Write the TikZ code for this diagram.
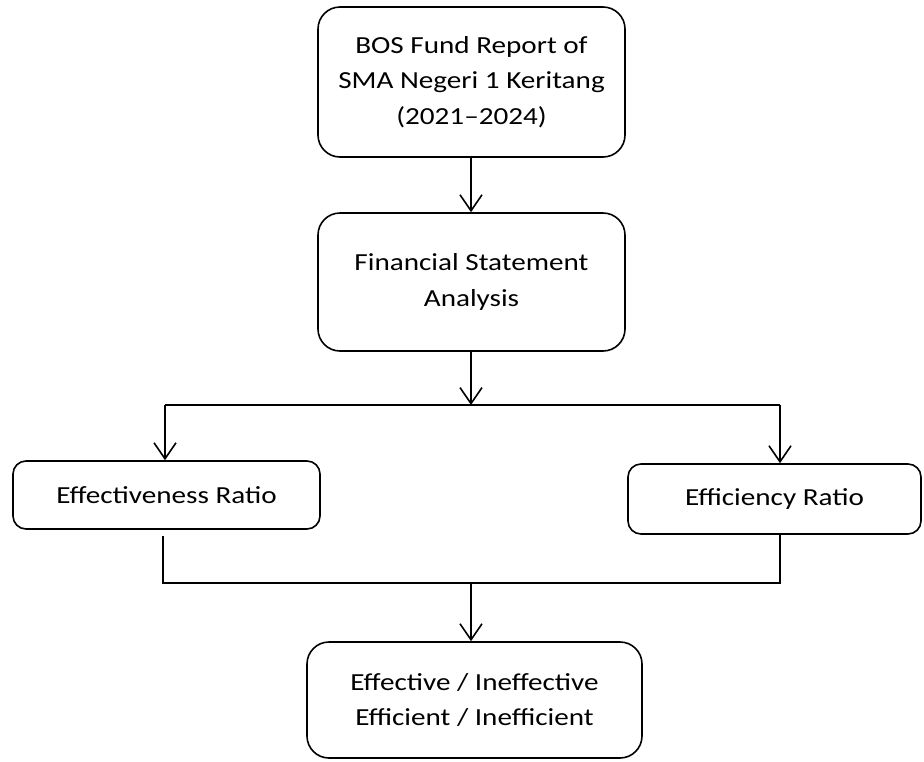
\documentclass[tikz,border=0pt]{standalone}
\usepackage{fontspec}
\setmainfont{Carlito}[FakeStretch=1.19]
\usetikzlibrary{arrows.meta}
\tikzset{
  box/.style={draw=black, line width=1.6pt, rounded corners=22pt, align=center, inner sep=0pt,
    font=\fontsize{24.5}{35.5}\selectfont},
  smallbox/.style={box, rounded corners=13pt},
  conn/.style={line width=1.6pt},
  arr/.style={conn, -{Straight Barb[length=16pt,width=22pt,line width=1.6pt]}}
}
\begin{document}
\begin{tikzpicture}[x=1pt,y=-1pt]
\useasboundingbox[fill=white] (0,0) rectangle (924,761);
\node[box, minimum width=307pt, minimum height=150pt] (b1) at (471.5,82) {BOS Fund Report of\\SMA Negeri 1 Keritang\\(2021–2024)};
\node[box, minimum width=307pt, minimum height=138pt] (b2) at (471.5,282) {Financial Statement\\Analysis};
\node[smallbox, minimum width=307pt, minimum height=68pt] (b3) at (166.5,495) {Effectiveness Ratio};
\node[smallbox, minimum width=293pt, minimum height=70pt] (b4) at (774.5,499) {Efficiency Ratio};
\node[box, minimum width=335pt, minimum height=116pt] (b5) at (474.5,700) {Effective / Ineffective\\Efficient / Inefficient};
\coordinate (split) at (471,405);
\coordinate (L) at (165,405);
\coordinate (R) at (780,405);
\coordinate (L2) at (163,583);
\coordinate (R2) at (780,583);
\coordinate (M) at (471,583);
\draw[arr] (b1.south -| split) -- (b2.north -| split);
\draw[arr] (b2.south -| split) -- (split);
\draw[conn] (L) -- (R);
\draw[arr] (L) -- (L |- b3.north);
\draw[arr] (R) -- (R |- b4.north);
\draw[conn] ([yshift=-6pt]b3.south -| L2) -- (L2) -- (R2) -- (b4.south -| R2);
\draw[arr] (M) -- (M |- b5.north);
\end{tikzpicture}
\end{document}
